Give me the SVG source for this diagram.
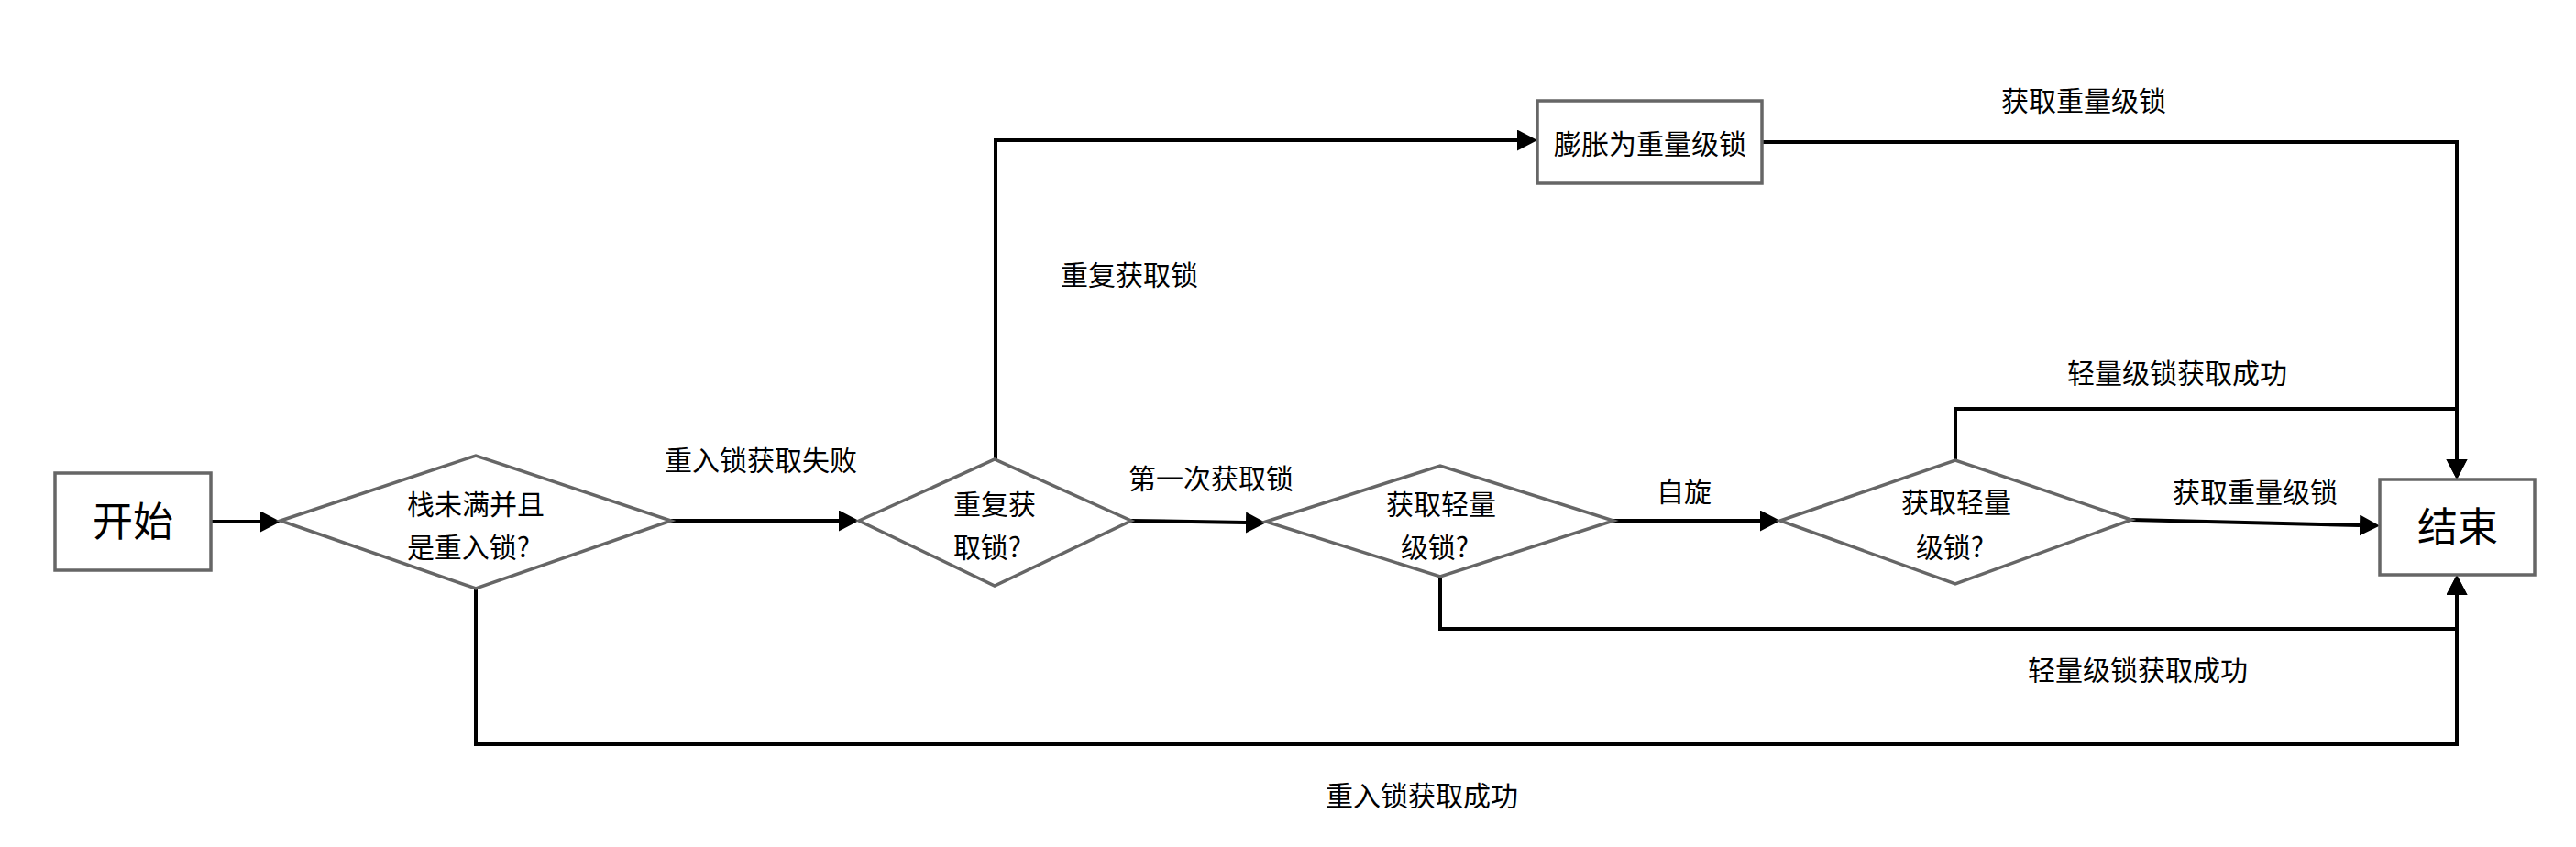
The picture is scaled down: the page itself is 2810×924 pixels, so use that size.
<svg xmlns="http://www.w3.org/2000/svg" width="2810" height="924" viewBox="0 0 2810 924">
<style>
.node{fill:#ffffff;stroke:#666666;stroke-width:3.5}
.edge{fill:none;stroke:#000000;stroke-width:4}
text{font-family:"Noto Sans CJK SC","Noto Sans",sans-serif;fill:#000000;text-anchor:middle}
.t{font-size:30px}
.big{font-size:44px}
</style>
<defs>
<marker id="arr" markerUnits="userSpaceOnUse" markerWidth="24" markerHeight="24" refX="0" refY="11.5" orient="auto" viewBox="0 0 24 24">
<path d="M0,0 L22,11.5 L0,23 Z" fill="#000000"/>
</marker>
</defs>
<rect width="2810" height="924" fill="#ffffff"/>
<g id="connectors">
<path class="edge" d="M230,569 H284" marker-end="url(#arr)"/>
<path class="edge" d="M732,568 H915" marker-end="url(#arr)"/>
<path class="edge" d="M1086,501 V153 H1655" marker-end="url(#arr)"/>
<path class="edge" d="M1922,155 H2680 V501" marker-end="url(#arr)"/>
<path class="edge" d="M1234,568 L1359,570" marker-end="url(#arr)"/>
<path class="edge" d="M1760,568 H1920" marker-end="url(#arr)"/>
<path class="edge" d="M2325,567 L2574,573" marker-end="url(#arr)"/>
<path class="edge" d="M2133,502 V446 H2680 V501" marker-end="url(#arr)"/>
<path class="edge" d="M1571,629 V686 H2680 V649" marker-end="url(#arr)"/>
<path class="edge" d="M519,642 V812 H2680 V649" marker-end="url(#arr)"/>
<text class="t" x="830" y="513">重入锁获取失败</text>
<text class="t" x="1232" y="311">重复获取锁</text>
<text class="t" x="2273" y="121">获取重量级锁</text>
<text class="t" x="1321" y="533">第一次获取锁</text>
<text class="t" x="1837" y="547">自旋</text>
<text class="t" x="2375" y="418">轻量级锁获取成功</text>
<text class="t" x="2460" y="548">获取重量级锁</text>
<text class="t" x="2332" y="742">轻量级锁获取成功</text>
<text class="t" x="1551" y="879">重入锁获取成功</text>
</g>
<g id="start">
<rect class="node" x="60" y="516" width="170" height="106"/>
<text class="big" x="145" y="585">开始</text>
</g>
<g id="d1">
<polygon class="node" points="306,568 519,497 732,568 519,642"/>
<text class="t" x="519" y="561">栈未满并且</text>
<text class="t" x="511" y="608">是重入锁?</text>
</g>
<g id="d2">
<polygon class="node" points="937,568 1085,501 1234,568 1085,639"/>
<text class="t" x="1085" y="561">重复获</text>
<text class="t" x="1077" y="608">取锁?</text>
</g>
<g id="d3">
<polygon class="node" points="1381,569 1571,508 1760,568 1571,629"/>
<text class="t" x="1572" y="561">获取轻量</text>
<text class="t" x="1565" y="608">级锁?</text>
</g>
<g id="d4">
<polygon class="node" points="1942,568 2133,502 2325,567 2133,637"/>
<text class="t" x="2134" y="559">获取轻量</text>
<text class="t" x="2127" y="608">级锁?</text>
</g>
<g id="inflate">
<rect class="node" x="1677" y="110" width="245" height="90"/>
<text class="t" x="1800" y="168">膨胀为重量级锁</text>
</g>
<g id="end">
<rect class="node" x="2596" y="523" width="169" height="104"/>
<text class="big" x="2681" y="591">结束</text>
</g>
</svg>
